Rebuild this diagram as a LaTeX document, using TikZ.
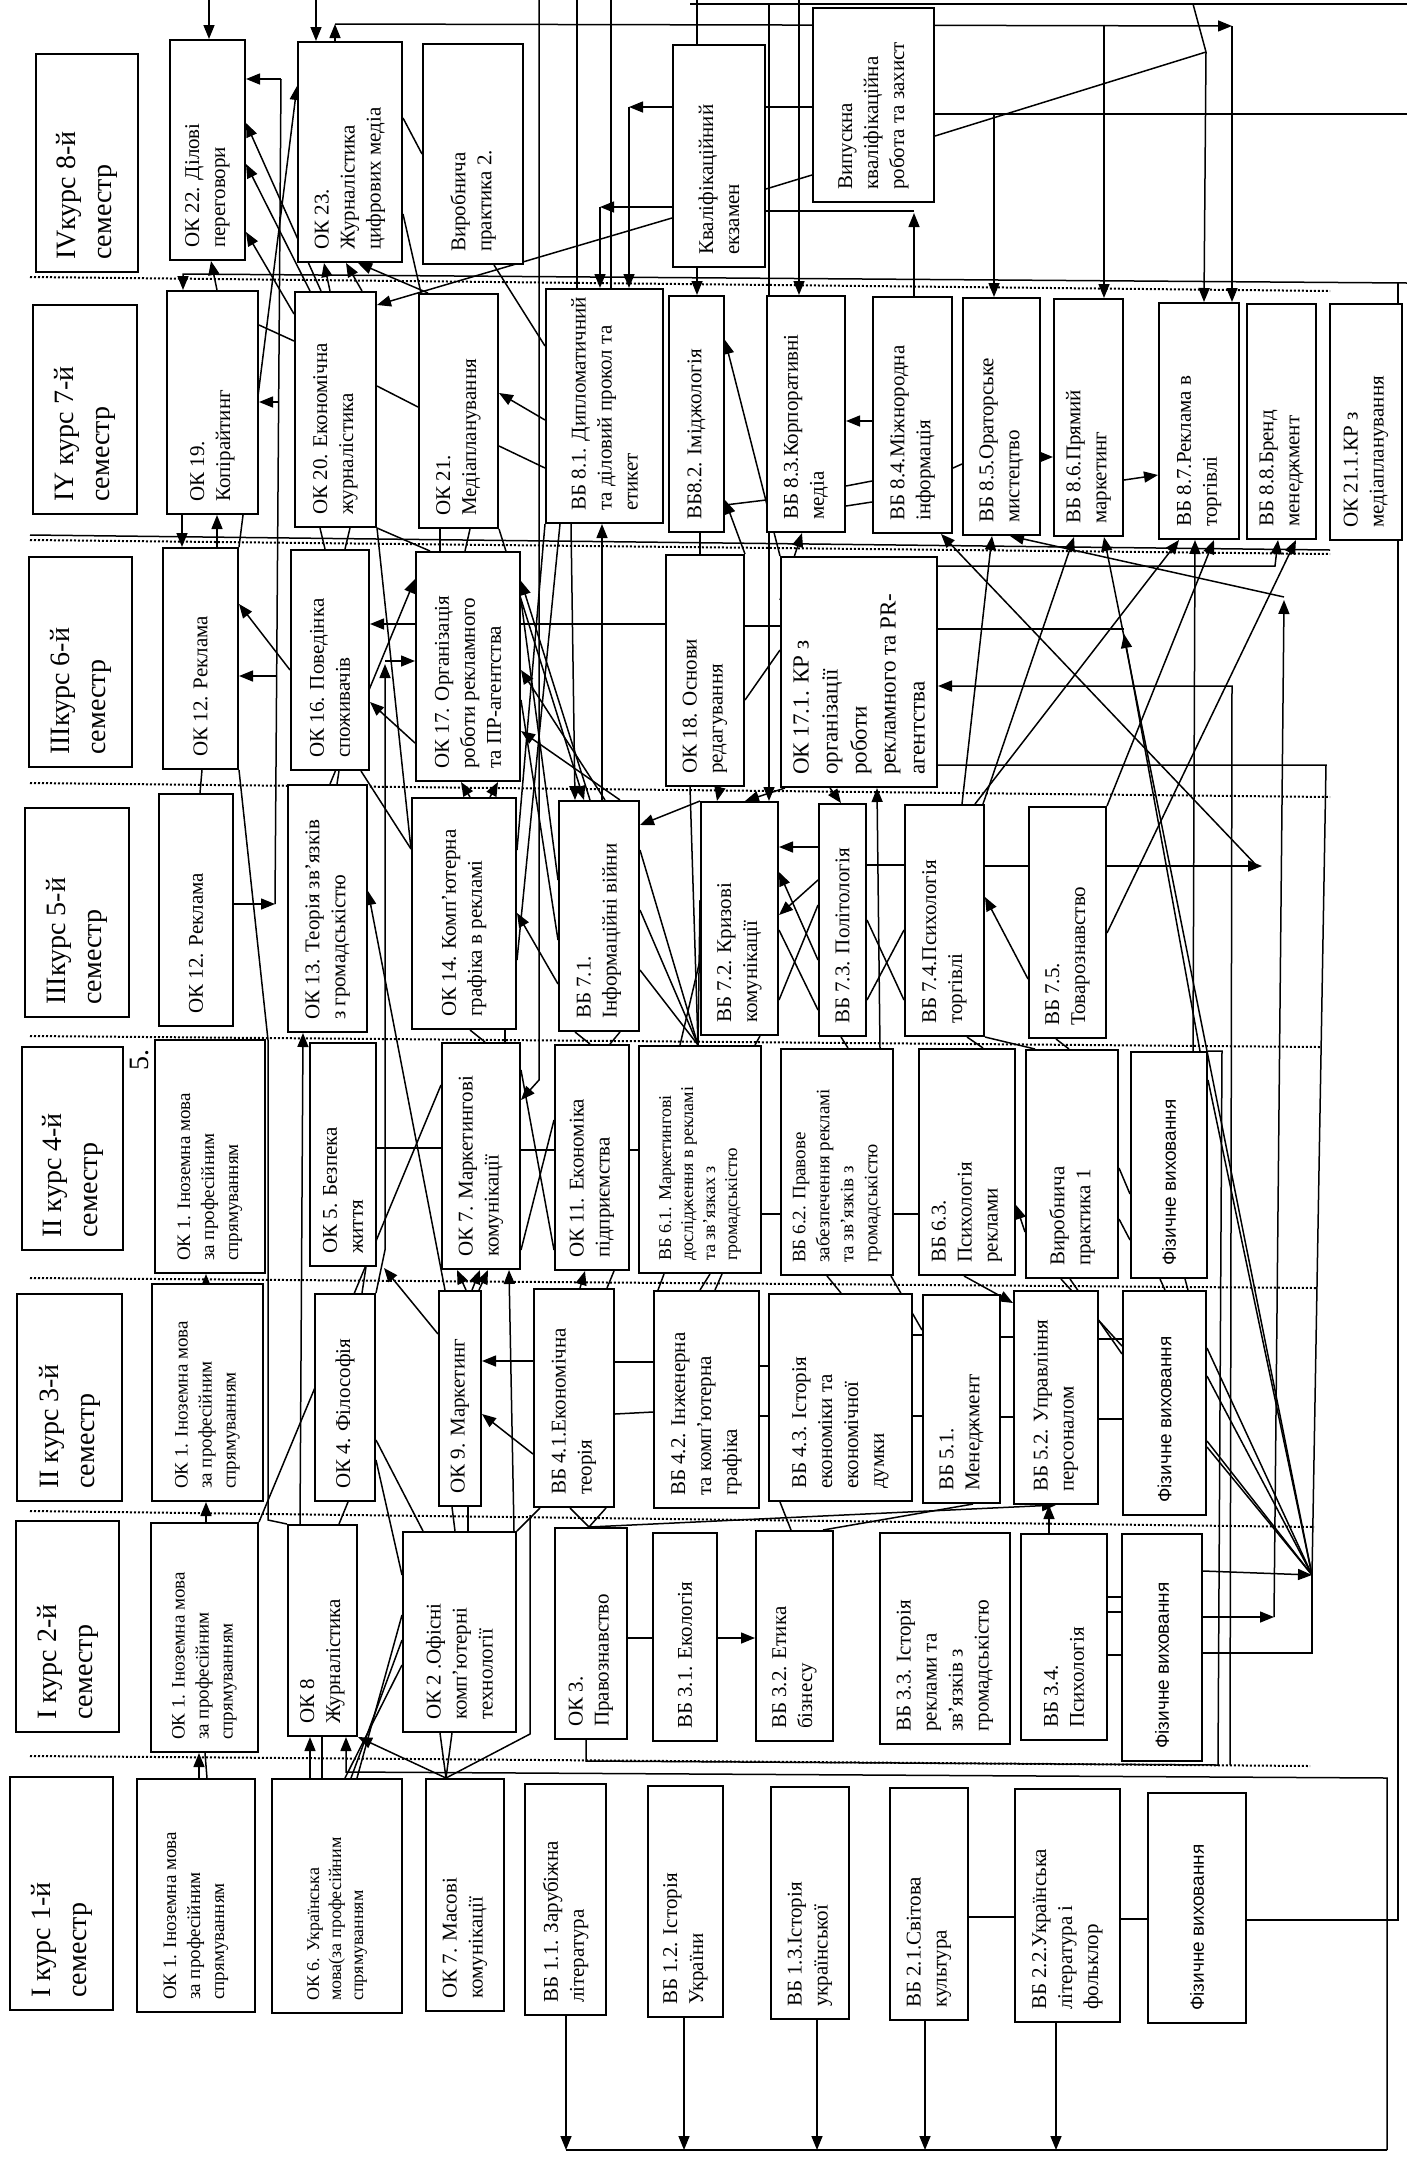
\documentclass[tikz,border=0pt]{standalone}
\usepackage{fontspec}
\setmainfont{Liberation Serif}
\newfontfamily\sansf{Liberation Sans}
\usetikzlibrary{arrows.meta,fit,backgrounds}
\newcommand\bfnt{\fontsize{21}{26}\selectfont}
\newcommand\mfnt{\fontsize{19}{24}\selectfont}
\newcommand\lfnt{\fontsize{28}{36}\selectfont}
\newcommand\sfnt{\fontsize{18}{22}\selectfont}
\newcommand\ffnt{\sansf\fontsize{19}{23}\selectfont}
\newcommand\bx[7][\bfnt]{\node[bxs,fit={(#3,#4)(#5,#6)}] (#2) {};
  \node[rotate=90,anchor=west,inner sep=0pt,font=#1,align=left] (t#2) at ({(#3+#5)/2},{#6-12}) {#7};}
\begin{document}
\begin{tikzpicture}[x=1pt,y=-1pt,
  bxs/.style={draw,line width=2pt,fill=white,inner sep=0pt},
  ln/.style={line width=1.5pt},
  ar/.style={ln,-{Triangle[length=14pt,width=11pt]}},
  sepl/.style={line width=2pt,dash pattern=on 2pt off 2pt}]
\useasboundingbox (0,0) rectangle (1407,2161);
% ---------- row 8
\bx[\lfnt]{lab8}{36}{54}{138}{272}{IVкурс 8-й\\семестр}
\bx{ok22}{170}{40}{245}{260}{ОК 22. Ділові\\переговори}
\bx{ok23}{298}{42}{402}{262}{ОК 23.\\Журналістика\\цифрових медіа}
\bx{vp2}{423}{44}{523}{264}{Виробнича\\практика 2.}
\bx{kve}{673}{45}{765}{267}{Кваліфікаційний\\екзамен}
\bx{vkr}{813}{8}{934}{202}{Випускна\\кваліфікаційна\\робота та захист}
% ---------- row 7
\bx[\lfnt]{lab7}{33}{305}{137}{514}{IY курс 7-й\\семестр}
\bx{ok19}{167}{291}{258}{514}{ОК 19.\\Копірайтинг}
\bx{ok20}{295}{292}{376}{527}{ОК 20. Економічна\\журналістика}
\bx{ok21}{419}{294}{498}{528}{ОК 21.\\Медіапланування}
\bx{vb81}{546}{289}{663}{523}{ВБ 8.1. Дипломатичний\\та діловий прокол та\\етикет}
\bx{vb82}{669}{296}{724}{532}{ВБ8.2. Іміджологія}
\bx{vb83}{767}{296}{845}{532}{ВБ 8.3.Корпоративні\\медіа}
\bx{vb84}{873}{297}{952}{533}{ВБ 8.4.Міжнородна\\інформація}
\bx{vb85}{963}{298}{1040}{535}{ВБ 8.5.Ораторське\\мистецтво}
\bx{vb86}{1054}{299}{1123}{536}{ВБ 8.6.Прямий\\маркетинг}
\bx{vb87}{1159}{303}{1239}{539}{ВБ 8.7.Реклама в\\торгівлі}
\bx{vb88}{1247}{304}{1316}{539}{ВБ 8.8.Бренд\\менеджмент}
\bx{ok211}{1330}{304}{1402}{540}{ОК 21.1.КР з\\медіапланування}
% ---------- row 6
\bx[\lfnt]{lab6}{29}{557}{132}{767}{IIIкурс 6-й\\семестр}
\bx{ok12b}{163}{548}{238}{769}{ОК 12. Реклама}
\bx{ok16}{291}{550}{369}{770}{ОК 16. Поведінка\\споживачів}
\bx{ok17}{416}{552}{520}{781}{ОК 17. Організація\\роботи рекламного\\та ПР-агентства}
\bx{ok18}{666}{555}{744}{786}{ОК 18. Основи\\редагування}
\bx[\fontsize{23}{29}\selectfont]{ok171}{781}{557}{937}{787}{ОК 17.1. КР з\\організації\\роботи\\рекламного та PR-\\агентства}
% ---------- row 5
\bx[\lfnt]{lab5}{25}{808}{129}{1017}{IIIкурс 5-й\\семестр}
\bx{ok12a}{159}{794}{233}{1026}{ОК 12. Реклама}
\bx{ok13}{288}{785}{367}{1032}{ОК 13. Теорія зв’язків\\з громадськістю}
\bx{ok14}{412}{798}{516}{1029}{ОК 14. Комп’ютерна\\графіка в рекламі}
\bx{vb71}{559}{801}{639}{1031}{ВБ 7.1.\\Інформаційні війни}
\bx{vb72}{701}{802}{778}{1035}{ВБ 7.2. Кризові\\комунікації}
\bx{vb73}{819}{804}{866}{1036}{ВБ 7.3. Політологія}
\bx{vb74}{905}{805}{984}{1036}{ВБ 7.4.Психологія\\торгівлі}
\bx{vb75}{1029}{807}{1106}{1038}{ВБ 7.5.\\Товарознавство}
\node[rotate=90,font=\fontsize{28}{30}\selectfont] (pg) at (140,1060) {5.};
% ---------- row 4
\bx[\lfnt]{lab4}{22}{1047}{123}{1250}{II курс 4-й\\семестр}
\bx[\mfnt]{ok1c}{155}{1040}{265}{1273}{ОК 1. Іноземна мова\\за професійним\\спрямуванням}
\bx{ok5}{310}{1043}{376}{1266}{ОК 5. Безпека\\життя}
\bx{ok7b}{442}{1043}{520}{1269}{ОК 7. Маркетингові\\комунікації}
\bx{ok11}{555}{1045}{629}{1270}{ОК 11. Економіка\\підприємства}
\bx[\sfnt]{vb61}{639}{1046}{761}{1273}{ВБ 6.1. Маркетингові\\дослідження в рекламі\\та зв’язках з\\громадськістю}
\bx[\mfnt]{vb62}{781}{1049}{893}{1275}{ВБ 6.2. Правове\\забезпечення рекламі\\та зв’язків з\\громадськістю}
\bx{vb63}{919}{1049}{1015}{1275}{ВБ 6.3.\\Психологія\\реклами}
\bx{vp1}{1026}{1050}{1118}{1278}{Виробнича\\практика 1}
\bx[\ffnt]{fv4}{1131}{1052}{1207}{1278}{Фізичне виховання}
% ---------- row 3
\bx[\lfnt]{lab3}{17}{1294}{122}{1501}{II курс 3-й\\семестр}
\bx[\mfnt]{ok1b}{152}{1284}{263}{1501}{ОК 1. Іноземна мова\\за професійним\\спрямуванням}
\bx{ok4}{315}{1294}{375}{1501}{ОК 4. Філософія}
\bx{ok9}{439}{1291}{481}{1506}{ОК 9. Маркетинг}
\bx{vb41}{534}{1289}{614}{1507}{ВБ 4.1.Економічна\\теорія}
\bx{vb42}{654}{1291}{759}{1508}{ВБ 4.2. Інженерна\\та комп’ютерна\\графіка}
\bx{vb43}{769}{1294}{912}{1501}{ВБ 4.3. Історія\\економіки та\\економічної\\думки}
\bx{vb51}{923}{1295}{1000}{1503}{ВБ 5.1.\\Менеджмент}
\bx{vb52}{1014}{1291}{1098}{1504}{ВБ 5.2. Управління\\персоналом}
\bx[\ffnt]{fv3}{1123}{1291}{1206}{1515}{Фізичне виховання}
% ---------- row 2
\bx[\lfnt]{lab2}{16}{1521}{119}{1732}{I курс 2-й\\семестр}
\bx[\mfnt]{ok1a}{151}{1523}{258}{1752}{ОК 1. Іноземна мова\\за професійним\\спрямуванням}
\bx{ok8}{288}{1525}{357}{1736}{ОК 8\\Журналістика}
\bx{ok2}{403}{1532}{516}{1732}{ОК 2 .Офісні\\комп’ютерні\\технології}
\bx{ok3}{555}{1528}{627}{1739}{ОК 3.\\Правознавство}
\bx{vb31}{653}{1533}{717}{1741}{ВБ 3.1. Екологія}
\bx{vb32}{756}{1531}{833}{1741}{ВБ 3.2. Етика\\бізнесу}
\bx{vb33}{880}{1533}{1010}{1744}{ВБ 3.3. Історія\\реклами та\\зв’язків з\\громадськістю}
\bx{vb34}{1021}{1534}{1107}{1740}{ВБ 3.4.\\Психологія}
\bx[\ffnt]{fv2}{1122}{1534}{1202}{1761}{Фізичне виховання}
% ---------- row 1
\bx[\lfnt]{lab1}{10}{1777}{113}{2010}{I курс 1-й\\семестр}
\bx[\mfnt]{ok1}{137}{1779}{255}{2012}{ОК 1. Іноземна мова\\за професійним\\спрямуванням}
\bx[\sfnt]{ok6}{272}{1779}{402}{2013}{ОК 6. Українська\\мова(за професійним\\спрямуванням}
\bx{ok7a}{426}{1779}{504}{2011}{ОК 7. Масові\\комунікації}
\bx{vb11}{525}{1784}{606}{2015}{ВБ 1.1. Зарубіжна\\література}
\bx{vb12}{648}{1786}{723}{2017}{ВБ 1.2. Історія\\України}
\bx{vb13}{771}{1787}{849}{2019}{ВБ 1.3.Історія\\української}
\bx{vb21}{890}{1788}{968}{2020}{ВБ 2.1.Світова\\культура}
\bx{vb22}{1015}{1789}{1120}{2022}{ВБ 2.2.Українська\\література і\\фольклор}
\bx[\ffnt]{fv1}{1148}{1793}{1246}{2023}{Фізичне виховання}
\coordinate (cp) at (1312,1575);
\begin{pgfonlayer}{background}
\fill[white] (0,0) rectangle (1407,2161);
% separators
\draw[sepl] (30,277) -- (1330,291);
\draw[sepl] (30,540) -- (1330,554);
\draw[sepl] (30,783) -- (1330,797);
\draw[sepl] (30,1036) -- (1320,1047);
\draw[sepl] (30,1278) -- (1316,1288);
\draw[sepl] (30,1511) -- (1314,1527);
\draw[sepl] (30,1756) -- (1310,1766);
\draw[ln] (30,535) -- (1330,550);
% ---- top region
\draw[ln] (690,4) -- (1407,4);
\draw[ar] (209,0) -- (209,0 |- ok22.north);
\draw[ar] (316,0) -- (316,0 |- ok23.north);
\draw[ar] (335,0 |- ok23.north) -- (335,24);
\draw[ar] (335,24) -- (1232,26);
\draw[ar] (1232,26) -- (1232,0 |- vb87.north);
\draw[ar] (1104,25) -- (1104,0 |- vb86.north);
\draw[ar] (539,0) -- (539,1080) -- (ok7b.east |- 0,1100);
\draw[ln] (577,0) -- (577,0 |- vb81.north);
\draw[ln] (611,0) -- (611,0 |- vb81.north);
\draw[ln] (697,0) -- (697,0 |- kve.north);
\draw[ar] (799,0) -- (799,0 |- vb83.north);
\draw[ar] (769,4) -- (769,0 |- vb72.north);
\draw[ar] (kve.west |- 0,107) -- (629,107);
\draw[ar] (629,107) -- (629,0 |- vb81.north);
\draw[ar] (kve.west |- 0,207) -- (600,207);
\draw[ar] (600,207) -- (600,0 |- vb81.north);
\draw[ar] (kve.west |- 0,218) -- (ok20.east |- 0,305);
\draw[ar] (697,0 |- kve.south) -- (697,0 |- vb82.north);
\draw[ln] (kve.east |- 0,107) -- (vkr.west |- 0,107);
\draw[ln] (kve.east |- 0,189) -- (vkr.west |- 0,175);
\draw[ar] (914,0 |- vb84.north) -- (914,213);
\draw[ln] (914,211) -- (kve.east |- 0,211);
\draw[ln] (vkr.east |- 0,114) -- (1407,114);
\draw[ar] (994,114) -- (994,0 |- vb85.north);
\draw[ln] (vkr.east |- 0,136) -- (1206,52);
\draw[ln] (1193,4) -- (1206,52);
\draw[ar] (1206,52) -- (1204,0 |- vb87.north);
\draw[ar] (1407,283) -- (183,274) -- (183,0 |- ok19.north);
\draw[ln] (fv1.east |- 0,1920) -- (1398,1920) -- (1398,283);
\draw[ar] (217,0 |- ok19.north) -- (211,0 |- ok22.south);
% bus x~278
\draw[ar] (ok12a.east |- 0,904) -- (275,904);
\draw[ln] (275,904) -- (281,79);
\draw[ar] (281,79) -- (ok22.east |- 0,79);
\draw[ar] (279,402) -- (ok19.east |- 0,402);
\draw[ar] (277,676) -- (ok12b.east |- 0,676);
\draw[ar] (ok12b.north east) -- (ok23.west |- 0,86);
\draw[ar] (321,0 |- ok20.north) -- (ok22.east |- 0,123);
\draw[ar] (310,0 |- ok20.north) -- (ok22.east |- 0,164);
\draw[ar] (ok20.west |- 0,314) -- (ok22.east |- 0,232);
\draw[ar] (330,0 |- ok20.north) -- (324,0 |- ok23.south);
\draw[ar] (362,0 |- ok20.north) -- (346,0 |- ok23.south);
\draw[ar] (428,0 |- ok21.north) -- (358,0 |- ok23.south);
\draw[ln] (ok23.east |- 0,118) -- (vp2.west |- 0,154);
\draw[ln] (ok23.east |- 0,214) -- (421,0 |- ok21.north);
\draw[ln] (494,0 |- vp2.south) -- (vb81.west |- 0,346);
\draw[ln] (ok19.east |- 0,325) -- (ok20.west |- 0,341);
\draw[ln] (ok20.east |- 0,386) -- (ok21.west |- 0,407);
\draw[ar] (vb81.west |- 0,420) -- (ok21.east |- 0,393);
\draw[ln] (ok21.east |- 0,446) -- (vb81.west |- 0,468);
\draw[ar] (ok171.north west) -- (vb82.east |- 0,340);
\draw[ar] (ok18.north east) -- (vb82.east |- 0,500);
\draw[ln] (vb82.east |- 0,505) -- (vb83.west |- 0,500);
\draw[ln] (vb83.east |- 0,486) -- (vb84.west |- 0,481);
\draw[ln] (vb83.east |- 0,506) -- (vb84.west |- 0,502);
\draw[ar] (vb84.west |- 0,421) -- (vb83.east |- 0,421);
\draw[ln] (vb84.east |- 0,468) -- (vb85.west |- 0,464);
\draw[ar] (vb85.east |- 0,457) -- (vb86.west |- 0,457);
\draw[ar] (vb86.east |- 0,480) -- (vb87.west |- 0,475);
% ---- row 7 / row 6
\draw[ar] (182,0 |- ok19.south) -- (182,0 |- ok12b.north);
\draw[ar] (217,0 |- ok12b.north) -- (217,0 |- ok19.south);
\draw[ln] (320,0 |- ok20.south) -- (325,0 |- ok16.north);
\draw[ln] (350,0 |- ok20.south) -- (345,0 |- ok16.north);
\draw[ln] (440,0 |- ok21.south) -- (440,0 |- ok17.north);
\draw[ln] (470,0 |- ok21.south) -- (465,0 |- ok17.north);
\draw[ln] (ok20.south east) -- (430,0 |- ok17.north);
\draw[ln] (ok20.south east) -- (ok14.west |- 0,849);
\draw[ar] (ok21.south east) -- (584,0 |- vb71.north);
\draw[ar] (602,0 |- vb71.north) -- (602,0 |- vb81.south);
\draw[ar] (571,0 |- vb81.south) -- (575,0 |- vb71.north);
\draw[ln] (700,0 |- vb82.south) -- (700,0 |- ok18.north);
\draw[ar] (ok171.west |- 0,600) -- (802,0 |- vb83.south);
\draw[ar] (1257,866) -- (941,0 |- vb84.south);
\draw[ar] (962,0 |- vb74.north) -- (992,0 |- vb85.south);
\draw[ar] (983,0 |- vb74.north) -- (1074,0 |- vb86.south);
\draw[ar] (975,0 |- vb74.north) -- (1179,0 |- vb87.south);
\draw[ar] (vb75.north east) -- (1214,0 |- vb87.south);
\draw[ar] (vb75.east |- 0,933) -- (1296,0 |- vb88.south);
\draw[ar] (ok171.east |- 0,566) -- (1275,566) -- (1278,0 |- vb88.south);
\draw[ar] (fv2.east |- 0,1617) -- (1274,1617);
\draw[ar] (1274,1617) -- (1284,600);
\draw[ar] (1284,597) -- (1010,0 |- vb85.south);
\draw[ar] (1200,0 |- fv4.north) -- (1124,634);
\draw[ln] (1124,629) -- (ok171.east |- 0,629);
\draw[ar] (1230,1765) -- (1232,686) -- (ok171.east |- 0,686);
\draw[ln] (ok171.east |- 0,765) -- (1326,765) -- (cp);
\draw[ar] (1193,0 |- fv4.north) -- (1195,0 |- vb87.south);
\draw[ar] (cp) -- (1104,0 |- vb86.south);
% ---- row 6 / row 5
\draw[ar] (ok16.west |- 0,670) -- (ok12b.east |- 0,604);
\draw[ln] (202,0 |- ok12b.south) -- (200,0 |- ok12a.north);
\draw[ln] (ok12b.south east) -- (268,1040) -- (268,1520) -- (ok8.north west);
\draw[ar] (ok17.west |- 0,624) -- (ok16.east |- 0,624);
\draw[ln] (ok17.east |- 0,624) -- (ok18.west |- 0,624);
\draw[ln] (ok18.east |- 0,626) -- (ok171.west |- 0,626);
\draw[ln] (ok18.east |- 0,700) -- (ok171.west |- 0,650);
\draw[ar] (ok4.north east) -- (385,1250) -- (385,664);
\draw[ar] (385,661) -- (ok17.west |- 0,661);
\draw[ar] (ok17.west |- 0,743) -- (ok16.east |- 0,702);
\draw[ar] (330,0 |- ok13.north) -- (ok17.west |- 0,579);
\draw[ar] (300,0 |- ok8.north) -- (303,0 |- ok13.south);
\draw[ar] (445,0 |- ok9.north) -- (ok13.east |- 0,891);
\draw[ln] (339,0 |- ok16.south) -- (337,0 |- ok13.north);
\draw[ln] (361,0 |- ok16.south) -- (ok14.west |- 0,849);
\draw[ar] (vb71.west |- 0,984) -- (ok14.east |- 0,913);
\draw[ar] (590,0 |- vb71.north) -- (ok17.east |- 0,581);
\draw[ar] (605,0 |- vb71.north) -- (ok17.east |- 0,670);
\draw[ar] (620,0 |- vb71.north) -- (ok17.east |- 0,731);
\draw[ln] (ok17.east |- 0,600) -- (vb71.west |- 0,880);
\draw[ln] (ok17.east |- 0,700) -- (vb71.west |- 0,940);
\draw[ln] (vb81.south west) -- (ok14.east |- 0,850);
\draw[ln] (560,0 |- vb81.south) -- (ok14.east |- 0,960);
\draw[ar] (470,0 |- ok14.north) -- (461,0 |- ok17.south);
\draw[ar] (490,0 |- ok14.north) -- (498,0 |- ok17.south);
\draw[ar] (vb72.north west) -- (vb71.east |- 0,825);
\draw[ar] (720,0 |- ok18.south) -- (717,0 |- vb72.north);
\draw[ar] (785,0 |- ok171.south) -- (745,0 |- vb72.north);
\draw[ar] (830,0 |- ok171.south) -- (841,0 |- vb73.north);
\draw[ar] (880,0 |- vb62.north) -- (877,0 |- ok171.south);
\draw[ar] (vb73.west |- 0,847) -- (vb72.east |- 0,847);
\draw[ar] (vb73.west |- 0,960) -- (vb72.east |- 0,872);
\draw[ar] (vb73.west |- 0,880) -- (vb72.east |- 0,915);
\draw[ln] (vb72.east |- 0,930) -- (vb73.west |- 0,1010);
\draw[ln] (vb72.east |- 0,1000) -- (vb73.west |- 0,905);
\draw[ln] (vb73.east |- 0,920) -- (vb74.west |- 0,1000);
\draw[ln] (vb73.east |- 0,1000) -- (vb74.west |- 0,930);
\draw[ln] (vb73.east |- 0,865) -- (vb74.west |- 0,865);
\draw[ln] (vb74.east |- 0,866) -- (vb75.west |- 0,866);
\draw[ar] (vb75.east |- 0,866) -- (1262,866);
\draw[ar] (vb75.west |- 0,979) -- (vb74.east |- 0,897);
% ---- row 5 / row 4
\draw[ln] (470,0 |- ok14.south) -- (485,0 |- ok7b.north);
\draw[ln] (505,0 |- ok14.south) -- (505,0 |- ok7b.north);
\draw[ln] (575,0 |- vb71.south) -- (590,0 |- ok11.north);
\draw[ln] (620,0 |- vb71.south) -- (610,0 |- ok11.north);
\draw[ln] (vb71.east |- 0,850) -- (698,0 |- vb61.north);
\draw[ln] (vb71.east |- 0,910) -- (698,0 |- vb61.north);
\draw[ln] (vb71.east |- 0,970) -- (698,0 |- vb61.north);
\draw[ln] (690,0 |- ok18.south) -- (698,0 |- vb61.north);
\draw[ln] (vb72.west |- 0,900) -- (698,0 |- vb61.north);
\draw[ln] (vb72.west |- 0,960) -- (680,0 |- vb61.north);
\draw[ln] (760,0 |- vb72.south) -- (755,0 |- vb61.north);
\draw[ln] (1056,0 |- vb75.south) -- (1069,0 |- vp1.north);
\draw[ln] (967,0 |- vb74.south) -- (983,0 |- vb63.north);
\draw[ln] (vb74.south east) -- (1035,0 |- vp1.north);
\draw[ln] (841,0 |- vb73.south) -- (848,0 |- vb62.north);
% ---- row 4
\draw[ln] (ok5.east |- 0,1148) -- (ok7b.west |- 0,1148);
\draw[ln] (ok7b.east |- 0,1150) -- (ok11.west |- 0,1150);
\draw[ln] (ok11.east |- 0,1150) -- (vb61.west |- 0,1150);
\draw[ln] (ok7b.east |- 0,1070) -- (ok11.west |- 0,1250);
\draw[ln] (ok7b.east |- 0,1250) -- (ok11.west |- 0,1120);
\draw[ln] (vb61.east |- 0,1214) -- (vb62.west |- 0,1214);
\draw[ln] (vb62.east |- 0,1214) -- (vb63.west |- 0,1214);
\draw[ar] (vp1.west |- 0,1232) -- (vb63.east |- 0,1205);
\draw[ln] (vp1.east |- 0,1168) -- (fv4.west |- 0,1194);
\draw[ln] (vp1.east |- 0,1219) -- (fv4.west |- 0,1240);
\draw[ln] (ok1a.north east) -- (ok7b.west |- 0,1085);
% ---- row 4 / row 3
\draw[ln] (362,0 |- ok4.north) -- (366,0 |- ok5.south);
\draw[ar] (466,0 |- ok9.north) -- (457,0 |- ok7b.south);
\draw[ar] (472,0 |- ok9.north) -- (480,0 |- ok7b.south);
\draw[ar] (479,0 |- ok9.north) -- (488,0 |- ok7b.south);
\draw[ar] (514,0 |- ok2.north) -- (509,0 |- ok7b.south);
\draw[ar] (ok9.west |- 0,1334) -- (384,1268);
\draw[ar] (580,0 |- vb41.north) -- (585,0 |- ok11.south);
\draw[ln] (607,0 |- vb41.north) -- (614,0 |- ok11.south);
\draw[ln] (658,0 |- vb42.north) -- (664,0 |- vb61.south);
\draw[ln] (700,0 |- vb42.north) -- (710,0 |- vb61.south);
\draw[ln] (715,0 |- vb42.north) -- (722,0 |- vb61.south);
\draw[ln] (827,0 |- vb62.south) -- (841,0 |- vb43.north);
\draw[ln] (891,0 |- vb62.south) -- (vb51.west |- 0,1330);
\draw[ar] (964,0 |- vb63.south) -- (vb52.west |- 0,1303);
\draw[ln] (1061,0 |- vp1.south) -- (fv3.west |- 0,1346);
\draw[ln] (1070,0 |- vp1.south) -- (fv3.west |- 0,1354);
\draw[ln] (1160,0 |- fv4.south) -- (1165,0 |- fv3.north);
\draw[ln] (1185,0 |- fv4.south) -- (1188,0 |- fv3.north);
% ---- row 3
\draw[ar] (vb41.west |- 0,1361) -- (ok9.east |- 0,1361);
\draw[ar] (vb41.west |- 0,1454) -- (ok9.east |- 0,1414);
\draw[ln] (vb41.east |- 0,1362) -- (vb42.west |- 0,1362);
\draw[ln] (vb41.east |- 0,1414) -- (vb42.west |- 0,1412);
\draw[ln] (vb42.east |- 0,1366) -- (vb43.west |- 0,1366);
\draw[ln] (vb42.east |- 0,1416) -- (vb43.west |- 0,1416);
\draw[ln] (vb43.east |- 0,1335) -- (vb51.west |- 0,1335);
\draw[ln] (vb43.east |- 0,1416) -- (vb51.west |- 0,1416);
\draw[ln] (vb51.east |- 0,1337) -- (vb52.west |- 0,1337);
\draw[ln] (vb51.east |- 0,1417) -- (vb52.west |- 0,1417);
\draw[ln] (vb52.east |- 0,1339) -- (fv3.west |- 0,1339);
\draw[ln] (vb52.east |- 0,1419) -- (fv3.west |- 0,1419);
% ---- row 3 / row 2
\draw[ln] (348,0 |- ok4.south) -- (339,0 |- ok8.north);
\draw[ln] (452,0 |- ok9.south) -- (455,0 |- ok2.north);
\draw[ln] (468,0 |- ok9.south) -- (468,0 |- ok2.north);
\draw[ln] (423,0 |- ok2.north) -- (ok4.east |- 0,1440);
\draw[ln] (ok2.north east) -- (540,0 |- vb41.south);
\draw[ln] (589,0 |- ok3.north) -- (570,0 |- vb41.south);
\draw[ln] (589,0 |- ok3.north) -- (606,0 |- vb41.south);
\draw[ar] (589,0 |- ok3.north) -- (1056,0 |- vb52.south);
\draw[ln] (823,0 |- vb32.north) -- (973,0 |- vb51.south);
\draw[ln] (780,0 |- vb43.south) -- (791,0 |- vb32.north);
\draw[ar] (1049,0 |- vb34.north) -- (1049,0 |- vb52.south);
\draw[ar] (206,0 |- ok1a.north) -- (206,0 |- ok1b.south);
\draw[ar] (206,0 |- ok1b.north) -- (206,0 |- ok1c.south);
% ---- row 2
\draw[ln] (ok3.east |- 0,1638) -- (vb31.west |- 0,1638);
\draw[ar] (vb31.east |- 0,1638) -- (vb32.west |- 0,1638);
\draw[ln] (vb34.east |- 0,1597) -- (fv2.west |- 0,1597);
\draw[ln] (vb34.east |- 0,1612) -- (fv2.west |- 0,1612);
\draw[ln] (vb34.east |- 0,1655) -- (fv2.west |- 0,1655);
\draw[ln] (ok2.west |- 0,1575) -- (ok4.east |- 0,1460);
% convergence point
\draw[ar] (fv2.east |- 0,1571) -- (cp);
\draw[ln] (fv2.east |- 0,1653) -- (1312,1653) -- (cp);
\draw[ln] (fv3.east |- 0,1348) -- (cp);
\draw[ln] (fv3.east |- 0,1376) -- (cp);
\draw[ln] (fv3.east |- 0,1441) -- (cp);
\draw[ln] (fv3.east |- 0,1447) -- (cp);
\draw[ln] (fv4.east |- 0,1080) -- (cp);
% ---- row 2 / row 1
\draw[ln] (586,0 |- ok3.south) -- (586,1761) -- (1218,1765) -- (1222,1051) -- (fv4.north east);
\draw[ar] (1387,2150) -- (1387,1778) -- (346,1772) -- (346,0 |- ok8.south);
\draw[ar] (199,0 |- ok1.north) -- (199,0 |- ok1a.south);
\draw[ln] (207,0 |- ok1.north) -- (205,0 |- ok1a.south);
\draw[ar] (310,0 |- ok6.north) -- (310,0 |- ok8.south);
\draw[ln] (322,0 |- ok6.north) -- (322,0 |- ok8.south);
\draw[ln] (345,0 |- ok6.north) -- (ok2.west |- 0,1665);
\draw[ln] (351,0 |- ok6.north) -- (ok2.west |- 0,1640);
\draw[ln] (357,0 |- ok6.north) -- (ok2.west |- 0,1615);
\draw[ar] (446,0 |- ok7a.north) -- (ok8.south east);
\draw[ln] (440,0 |- ok2.south) -- (446,0 |- ok7a.north);
\draw[ln] (452,0 |- ok2.south) -- (446,0 |- ok7a.north);
\draw[ln] (446,0 |- ok7a.north) -- (530,1734) -- (530,1515);
% ---- row 1
\draw[ln] (vb21.east |- 0,1917) -- (vb22.west |- 0,1917);
\draw[ln] (vb22.east |- 0,1919) -- (fv1.west |- 0,1919);
\draw[ln] (566,2150) -- (1387,2150);
\draw[ar] (566,0 |- vb11.south) -- (566,2150);
\draw[ar] (684,0 |- vb12.south) -- (684,2150);
\draw[ar] (817,0 |- vb13.south) -- (817,2150);
\draw[ar] (925,0 |- vb21.south) -- (925,2150);
\draw[ar] (1056,0 |- vb22.south) -- (1056,2150);
\end{pgfonlayer}
\end{tikzpicture}
\end{document}
